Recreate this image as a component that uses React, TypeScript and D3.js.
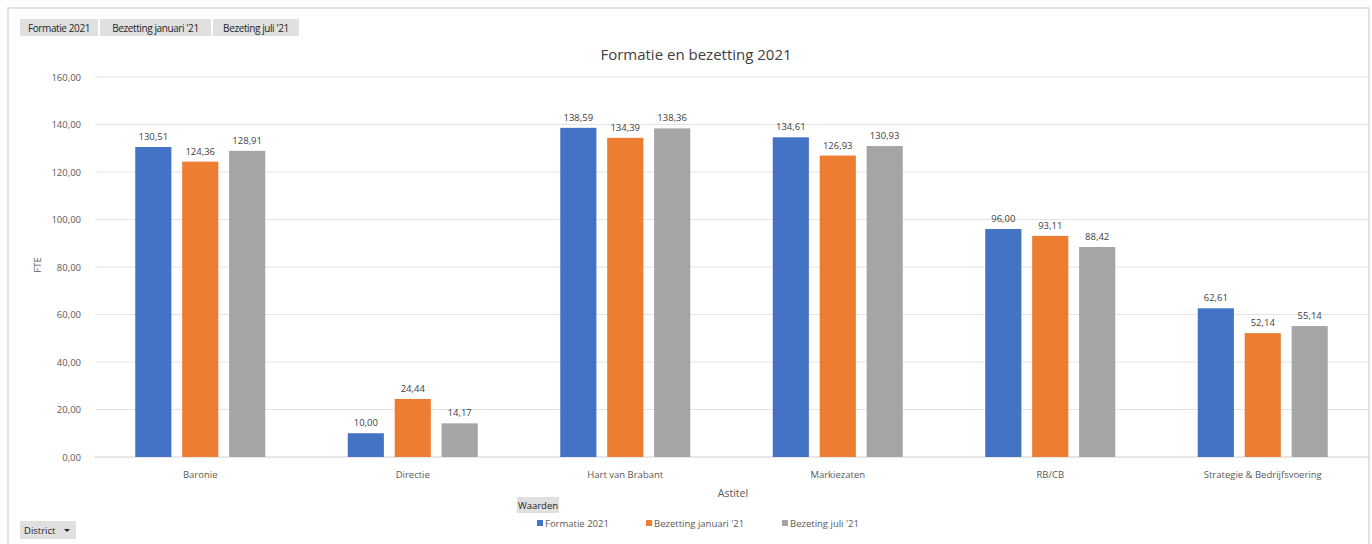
import React from "react";
import * as d3 from "d3";

const categories = ["Baronie", "Directie", "Hart van Brabant", "Markiezaten", "RB/CB", "Strategie & Bedrijfsvoering"];
const seriesNames = ["Formatie 2021", "Bezetting januari '21", "Bezeting juli '21"];
const formatie2021 = [130.51, 10.0, 138.59, 134.61, 96.0, 62.61];
const bezettingJan21 = [124.36, 24.44, 134.39, 126.93, 93.11, 52.14];
const bezettingJul21 = [128.91, 14.17, 138.36, 130.93, 88.42, 55.14];
const yTicks = [0, 20, 40, 60, 80, 100, 120, 140, 160];
const colors = ["#4472C4", "#ED7D31", "#A5A5A5"];

const W = 1372;
const H = 544;
const FONT = "'Open Sans', 'Liberation Sans', sans-serif";

export default function App() {
  const series = [formatie2021, bezettingJan21, bezettingJul21];
  const x0 = d3.scaleBand<string>().domain(categories).range([94, 1369]).paddingInner(0).paddingOuter(0);
  const inner = 130;
  const x1 = d3.scaleBand<number>().domain([0, 1, 2]).range([0, inner]).paddingInner(0.23).paddingOuter(0);
  const y = d3.scaleLinear().domain([0, 160]).range([457, 77]);
  const fmt = (v: number) => v.toFixed(2).replace(".", ",");
  const bw = x0.bandwidth();

  const legendItems = [
    { x: 537, label: seriesNames[0] },
    { x: 646, label: seriesNames[1] },
    { x: 782, label: seriesNames[2] },
  ];
  const topButtons = [
    { x: 20, w: 78, label: "Formatie 2021" },
    { x: 100, w: 111, label: "Bezetting januari '21" },
    { x: 213, w: 86, label: "Bezeting juli '21" },
  ];

  return (
    <svg width={W} height={H} style={{ position: "absolute", left: 0, top: 0, background: "#fff" }} fontFamily={FONT}>
      <rect x={8} y={8} width={1361} height={545} fill="#fff" stroke="#d9d9d9" strokeWidth={1.5} />
      {topButtons.map((b, i) => (
        <g key={i}>
          <rect x={b.x} y={19} width={b.w} height={17} fill="#e0e0e0" />
          <text x={b.x + b.w / 2} y={31.5} fontSize={10} fill="#262626" textAnchor="middle" letterSpacing={-0.4}>{b.label}</text>
        </g>
      ))}
      <text x={696} y={60} fontSize={15} fill="#404040" textAnchor="middle">Formatie en bezetting 2021</text>

      {yTicks.map((t) => (
        <g key={t}>
          <line x1={95} x2={1369} y1={y(t)} y2={y(t)} stroke={t === 0 ? "#d0d0d0" : "#e4e4e4"} strokeWidth={1} />
          <text x={81} y={y(t) + 3.5} fontSize={9.5} fill="#595959" textAnchor="end">{fmt(t)}</text>
        </g>
      ))}
      <text transform={`translate(41,265) rotate(-90)`} fontSize={9.5} fill="#595959" textAnchor="middle">FTE</text>

      {categories.map((c, ci) => {
        const gx = (x0(c) as number) + (bw - inner) / 2;
        return (
          <g key={c}>
            {series.map((s, si) => {
              const bx = gx + (x1(si) as number);
              const v = s[ci];
              return (
                <g key={si}>
                  <rect x={bx} y={y(v)} width={x1.bandwidth()} height={y(0) - y(v)} fill={colors[si]} />
                  <text x={bx + x1.bandwidth() / 2} y={y(v) - 7} fontSize={9.5} fill="#404040" textAnchor="middle">{fmt(v)}</text>
                </g>
              );
            })}
            <text x={(x0(c) as number) + bw / 2} y={478} fontSize={9.5} fill="#595959" textAnchor="middle">{c}</text>
          </g>
        );
      })}

      <text x={733} y={497} fontSize={10.5} fill="#595959" textAnchor="middle">Astitel</text>
      <rect x={517} y={497} width={42} height={16} fill="#e0e0e0" />
      <text x={538} y={509} fontSize={9.5} fill="#262626" textAnchor="middle">Waarden</text>

      {legendItems.map((l, i) => (
        <g key={i}>
          <rect x={l.x} y={520} width={6} height={6} fill={colors[i]} />
          <text x={l.x + 8} y={526.5} fontSize={9.5} fill="#595959">{l.label}</text>
        </g>
      ))}

      <rect x={20} y={521} width={56} height={18} fill="#e0e0e0" />
      <text x={24} y={533.5} fontSize={9.5} fill="#262626">District</text>
      <path d="M64,529 L70,529 L67,532 Z" fill="#262626" />
    </svg>
  );
}
